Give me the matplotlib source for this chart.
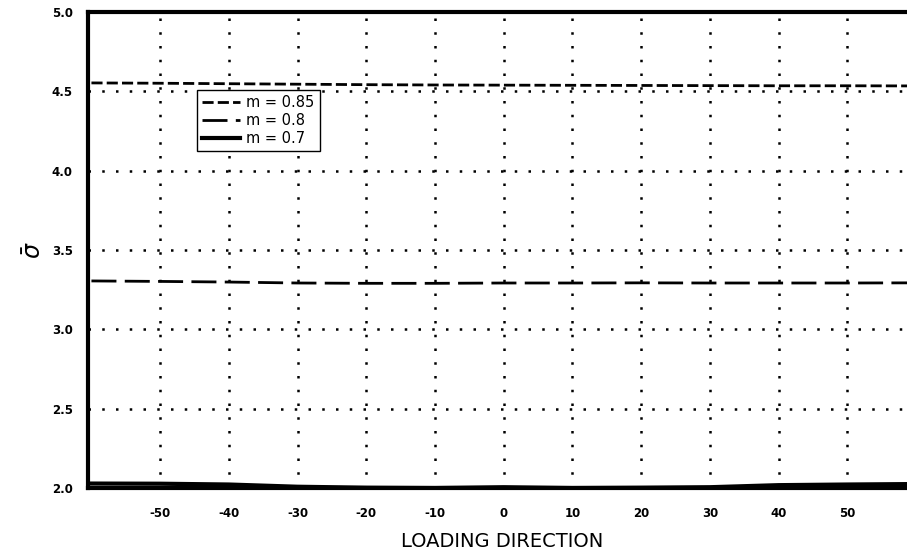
"""Effective stress vs loading direction for three values of m."""

from __future__ import annotations

import matplotlib

matplotlib.use("Agg", force=True)

import matplotlib.pyplot as plt  # noqa: E402

# Data.
loading_direction = [-60, -50, -40, -30, -20, -10, 0, 10, 20, 30, 40, 50, 60]
sigma_m085 = [4.553, 4.551, 4.548, 4.545, 4.542, 4.540, 4.539,
              4.538, 4.537, 4.536, 4.535, 4.535, 4.534]
sigma_m08 = [3.305, 3.302, 3.298, 3.292, 3.290, 3.290, 3.292,
             3.292, 3.293, 3.292, 3.292, 3.292, 3.293]
sigma_m07 = [2.028, 2.027, 2.022, 2.008, 2.002, 2.000, 2.005,
             2.000, 2.002, 2.005, 2.018, 2.022, 2.025]

x_ticks = [-50, -40, -30, -20, -10, 0, 10, 20, 30, 40, 50]
y_ticks = [2.0, 2.5, 3.0, 3.5, 4.0, 4.5, 5.0]
labels = ["m = 0.85", "m = 0.8", "m = 0.7"]

W, H = 907, 551


def build_figure():
    fig = plt.figure(figsize=(W / 100, H / 100), dpi=100)
    left, right, top, bottom = 88, 916, 12, 488
    ax = fig.add_axes([left / W, 1 - bottom / H, (right - left) / W, (bottom - top) / H])

    # dotted grid, drawn by hand so it stays inside the frame
    for xv in x_ticks:
        ax.axvline(xv, color="black", lw=1.8, linestyle=(0, (1, 4.5)), zorder=1)
    for yv in y_ticks[1:-1]:
        ax.axhline(yv, color="black", lw=1.8, linestyle=(0, (1, 4.5)), zorder=1)

    ax.plot(loading_direction, sigma_m085, color="black", lw=2,
            linestyle=(0, (4, 1.5)), label=labels[0], zorder=3)
    ax.plot(loading_direction, sigma_m08, color="black", lw=2,
            linestyle=(0, (9, 3)), label=labels[1], zorder=3)
    ax.plot(loading_direction, sigma_m07, color="black", lw=3,
            linestyle="-", label=labels[2], zorder=3)

    ax.set_xlim(-60.5, 60)
    ax.set_ylim(2.0, 5.0)
    ax.set_xticks(x_ticks)
    ax.set_xticklabels([str(v) for v in x_ticks])
    ax.set_yticks(y_ticks)
    ax.set_yticklabels([f"{v:.1f}" for v in y_ticks])
    ax.tick_params(axis="both", length=0, labelsize=8.5)
    ax.tick_params(axis="x", pad=14)
    ax.tick_params(axis="y", pad=11)
    for lab in ax.get_xticklabels() + ax.get_yticklabels():
        lab.set_fontweight("bold")

    for side in ("left", "top", "bottom"):
        ax.spines[side].set_linewidth(3)
    ax.spines["right"].set_visible(False)

    ax.set_xlabel("LOADING DIRECTION", fontsize=14, labelpad=8)
    ax.set_ylabel(r"$\bar{\sigma}$", fontsize=17, rotation=90, labelpad=4)

    leg = ax.legend(loc="upper left", bbox_to_anchor=(0.132, 0.836),
                    borderaxespad=0, fontsize=10.5, fancybox=False,
                    framealpha=1, edgecolor="black", handlelength=2.6,
                    handletextpad=0.4, labelspacing=0.2, borderpad=0.35)
    leg.get_frame().set_linewidth(1)
    return fig


if __name__ == "__main__":
    fig = build_figure()
    fig.savefig("out.png", dpi=100)
    plt.close(fig)
